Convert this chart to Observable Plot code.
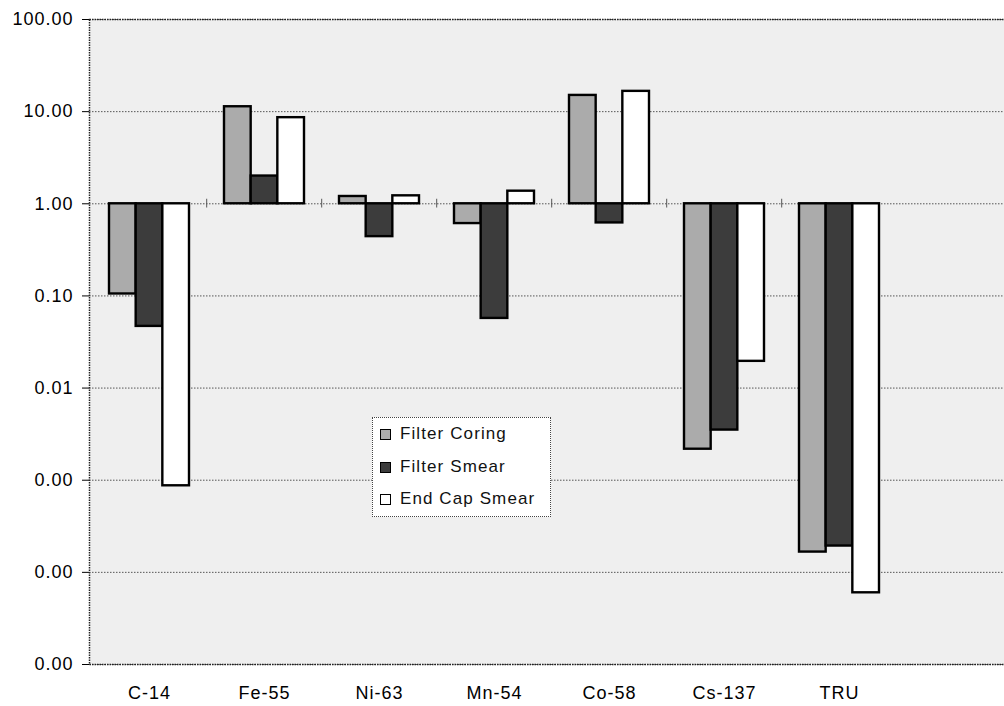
<!DOCTYPE html>
<html>
<head>
<meta charset="utf-8">
<script src="https://cdn.jsdelivr.net/npm/d3@7"></script>
<script src="https://cdn.jsdelivr.net/npm/@observablehq/plot@0.6"></script>
<style>
  html, body { margin: 0; padding: 0; background: white; }
  #wrap { position: relative; width: 1004px; height: 706px; overflow: hidden; font-family: "Liberation Sans", Arial, sans-serif; }
  #wrap svg text { font-size: 18px !important; letter-spacing: 1px; fill: #000; }
  #legend { position: absolute; left: 372px; top: 417px; width: 179px; height: 100px; box-sizing: border-box;
            border: 1px dotted #444; background: white; }
  .row { position: absolute; left: 7px; display: flex; align-items: center; font-size: 17px; letter-spacing: 1.1px; color: #111; white-space: nowrap; }
  .sw { width: 9px; height: 9px; border: 1.5px solid #000; margin-right: 9px; box-sizing: content-box; }
</style>
</head>
<body>
<div id="wrap"></div>
<script>
const categories = ["C-14", "Fe-55", "Ni-63", "Mn-54", "Co-58", "Cs-137", "TRU"];
const seriesNames = ["Filter Coring", "Filter Smear", "End Cap Smear"];
const filterCoring = [0.105, 11.3, 1.2, 0.61, 15.0, 0.00217, 0.000166];
const filterSmear = [0.0467, 2.0, 0.44, 0.057, 0.62, 0.0035, 0.000193];
const endCapSmear = [0.00087, 8.6, 1.22, 1.37, 16.6, 0.0195, 0.00006];
const yTicks = [0.00001, 0.0001, 0.001, 0.01, 0.1, 1, 10, 100];
const seriesColors = ["#ababab", "#3c3c3c", "#ffffff"];

const seriesValues = [filterCoring, filterSmear, endCapSmear];
const rows = seriesValues.map(vals => categories.map((c, i) => ({category: c, value: vals[i]})));

const bw = 80;           // bandwidth of one category group
const sub = bw / 3;      // one bar within a group
const barStyle = {stroke: "#000", strokeWidth: 2.4};

const chart = Plot.plot({
  width: 1004,
  height: 706,
  marginTop: 19,
  marginBottom: 42,
  marginLeft: 89,
  marginRight: -2,
  style: {fontFamily: "Liberation Sans, Arial, sans-serif", fontSize: "18px", color: "#000", background: "transparent"},
  x: {domain: categories, range: [89, 898.4], paddingInner: 0.308, paddingOuter: 0.154, label: null, tickSize: 0, tickPadding: 22},
  y: {type: "log", domain: [0.00001, 100], ticks: yTicks, tickFormat: d3.format(".2f"), tickSize: 7, tickPadding: 9, label: null},
  marks: [
    Plot.frame({fill: "#efefef"}),
    Plot.ruleY(yTicks, {stroke: "#555", strokeDasharray: "1.5,1.5", strokeWidth: 1}),
    Plot.barY(rows[0], {x: "category", y1: () => 1, y2: "value", fill: seriesColors[0], insetLeft: 0, insetRight: 2 * sub, ...barStyle}),
    Plot.barY(rows[1], {x: "category", y1: () => 1, y2: "value", fill: seriesColors[1], insetLeft: sub, insetRight: sub, ...barStyle}),
    Plot.barY(rows[2], {x: "category", y1: () => 1, y2: "value", fill: seriesColors[2], insetLeft: 2 * sub, insetRight: 0, ...barStyle}),
    Plot.ruleX(categories.slice(1), {x: d => d, y1: () => 0.9, y2: () => 1.12, dx: -57.8, stroke: "#555"}),
    Plot.frame({stroke: "#222", strokeDasharray: "1.5,1", strokeWidth: 1.5})
  ]
});

const wrap = document.getElementById("wrap");
wrap.appendChild(chart);

const legend = document.createElement("div");
legend.id = "legend";
const tops = [6, 39, 71];
seriesNames.forEach((name, i) => {
  const row = document.createElement("div");
  row.className = "row";
  row.style.top = tops[i] + "px";
  const sw = document.createElement("span");
  sw.className = "sw";
  sw.style.background = seriesColors[i];
  const t = document.createElement("span");
  t.textContent = name;
  row.appendChild(sw);
  row.appendChild(t);
  legend.appendChild(row);
});
wrap.appendChild(legend);
</script>
</body>
</html>
